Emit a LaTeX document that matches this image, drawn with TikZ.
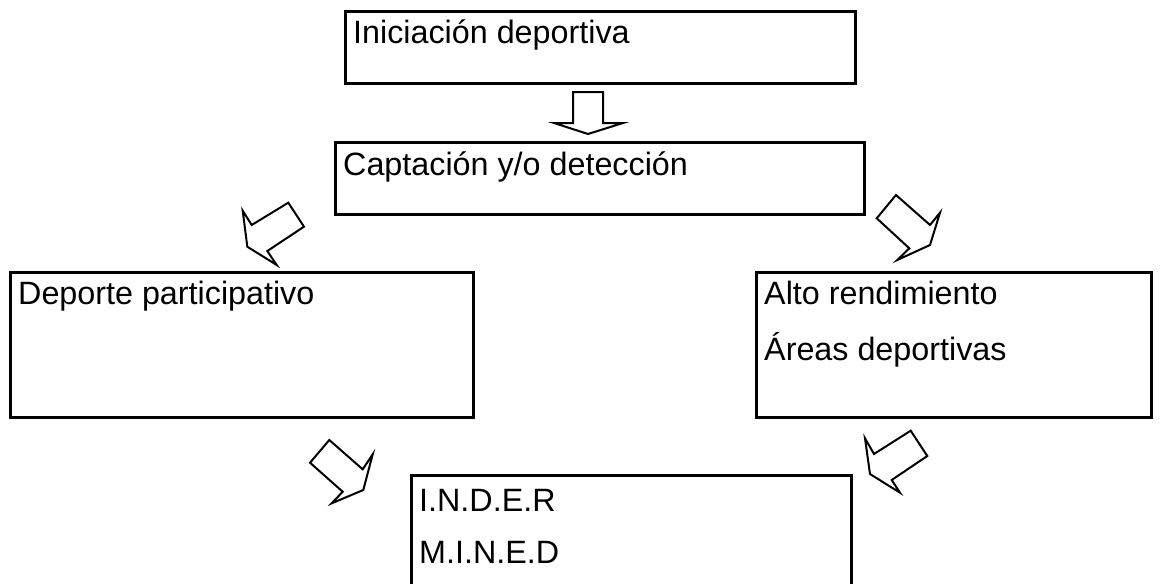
\documentclass[tikz,border=0pt]{standalone}
\usepackage{fontspec}
\setmainfont{Liberation Sans}
\begin{document}
\begin{tikzpicture}[x=1pt,y=-1pt,
  boxstyle/.style={draw=black,line width=3pt},
  lbl/.style={anchor=base west,inner sep=0pt,font=\fontsize{32.3}{36}\selectfont},
  blockarrow/.style={draw=black,fill=white,line width=2pt,line join=miter}]
\useasboundingbox (0,0) rectangle (1163,584);
\clip (0,0) rectangle (1163,584);
% boxes
\draw[boxstyle] (345,11) rectangle (855,83);
\draw[boxstyle] (335,142) rectangle (864,214);
\draw[boxstyle] (10,272) rectangle (473,417);
\draw[boxstyle] (756,272) rectangle (1151,417);
\draw[boxstyle] (411,600) -- (411,475) -- (851,475) -- (851,600);
% labels
\node[lbl] (t1) at (353,43) {Iniciación deportiva};
\node[lbl] (t2) at (343,175) {Captación y/o detección};
\node[lbl] (t3) at (18,304) {Deporte participativo};
\node[lbl] (t4a) at (764,304) {Alto rendimiento};
\node[lbl] (t4b) at (764,360) {Áreas deportivas};
\node[lbl] (t5a) at (419,511) {I.N.D.E.R};
\node[lbl] (t5b) at (419,563) {M.I.N.E.D};
% block arrows
\draw[blockarrow] (573,92) -- (603,92) -- (603,123) -- (623,123) -- (588,134) -- (554,123) -- (573,123) -- cycle;
\draw[blockarrow] (288.3,202.7) -- (304,226.7) -- (267.3,251) -- (276.7,265) -- (247.3,246.7) -- (242.7,210.7) -- (251.7,225) -- cycle;
\draw[blockarrow] (896,195) -- (930,225) -- (940,212.7) -- (930,245) -- (897.3,260) -- (909.3,248.3) -- (876.7,218.3) -- cycle;
\draw[blockarrow] (329.3,440) -- (362.7,469.3) -- (372.7,454.3) -- (363.3,490) -- (331.7,503.3) -- (342.7,491.7) -- (310,462.7) -- cycle;
\draw[blockarrow] (910.7,430.7) -- (927.3,456) -- (891.7,480) -- (900,492.7) -- (870,474) -- (865,438.3) -- (874,454) -- cycle;
\end{tikzpicture}
\end{document}
